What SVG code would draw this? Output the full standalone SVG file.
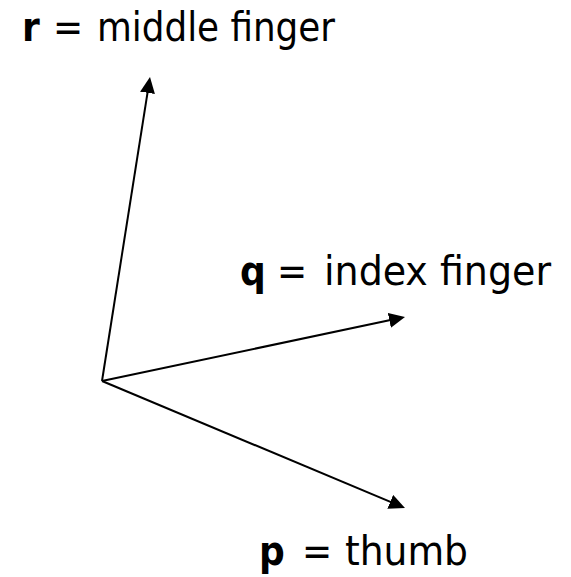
<svg xmlns="http://www.w3.org/2000/svg" width="571" height="577" viewBox="0 0 571 577">
  <style>
    .lbl { font-family: "DejaVu Sans Condensed", "DejaVu Sans", sans-serif; font-size: 40px; fill: #000; }
    .b { font-weight: bold; }
    .vec { stroke: #000; stroke-width: 2; fill: none; marker-end: url(#arrow); }
  </style>
  <defs>
    <marker id="arrow" markerUnits="userSpaceOnUse" markerWidth="16" markerHeight="15" refX="6" refY="7.5" orient="auto">
      <path d="M0,0 L16,7.5 L0,15 z" fill="#000"/>
    </marker>
  </defs>
  <rect width="571" height="577" fill="#fff"/>
  <g id="connectors">
    <line class="vec" x1="102" y1="381" x2="148.44" y2="86.88"/>
    <line class="vec" x1="102" y1="381" x2="395.22" y2="319.07"/>
    <line class="vec" x1="102" y1="381" x2="395.78" y2="504.13"/>
  </g>
  <g id="node-r">
    <text class="lbl b" x="22" y="41">r</text>
    <text class="lbl" x="53" y="41">=</text>
    <text class="lbl" x="97" y="41" textLength="238" lengthAdjust="spacingAndGlyphs">middle finger</text>
  </g>
  <g id="node-q">
    <text class="lbl b" x="240" y="285">q</text>
    <text class="lbl" x="277" y="285">=</text>
    <text class="lbl" x="324" y="285" textLength="227" lengthAdjust="spacingAndGlyphs">index finger</text>
  </g>
  <g id="node-p">
    <text class="lbl b" x="259" y="565">p</text>
    <text class="lbl" x="302" y="565">=</text>
    <text class="lbl" x="345" y="565" textLength="123" lengthAdjust="spacingAndGlyphs">thumb</text>
  </g>
</svg>
